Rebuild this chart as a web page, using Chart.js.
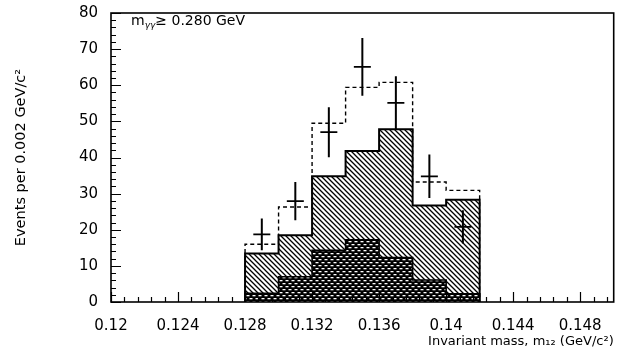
<!DOCTYPE html>
<html>
<head>
<meta charset="utf-8">
<script src="https://cdn.jsdelivr.net/npm/chart.js@4.4.0/dist/chart.umd.min.js"></script>
<style>
  html, body { margin: 0; padding: 0; background: #fff; }
  #wrap { width: 624px; height: 358px; }
</style>
</head>
<body>
<div id="wrap"><canvas id="chart" width="624" height="358"></canvas></div>
<script>
// histogram bins, width 0.002 GeV/c^2
const binEdges = [0.128, 0.130, 0.132, 0.134, 0.136, 0.138, 0.140, 0.142];
const totalMC  = [16.0, 26.3, 49.5, 59.4, 60.8, 33.2, 30.9];  // dashed outline
const signalMC = [13.4, 18.5, 34.8, 41.8, 47.8, 26.7, 28.3];  // hatched
const bkgMC    = [2.4, 7.0, 14.3, 17.2, 12.3, 6.1, 2.3];      // cross-hatched

// data points with errors
const dataX   = [0.129, 0.131, 0.133, 0.135, 0.137, 0.139, 0.141];
const dataY   = [18.7, 27.9, 47.0, 65.1, 55.1, 34.8, 20.8];
const dataErr = [4.4, 5.3, 6.9, 8.0, 7.4, 6.0, 4.6];

const xTicks = [0.12, 0.124, 0.128, 0.132, 0.136, 0.14, 0.144, 0.148];
const yTicks = [0, 10, 20, 30, 40, 50, 60, 70, 80];

const FONT = "'DejaVu Sans', sans-serif";

// step outline: up at first edge, across each bin, down at the last edge
function stepPoints(vals) {
  const pts = [{ x: binEdges[0], y: 0 }];
  vals.forEach((v, i) => pts.push({ x: binEdges[i], y: v }));
  pts.push({ x: binEdges[vals.length], y: vals[vals.length - 1] });
  pts.push({ x: binEdges[vals.length], y: 0 });
  return pts;
}

function errPoints() {
  const pts = [];
  dataX.forEach((x, i) => {
    pts.push({ x: x, y: dataY[i] - dataErr[i] });
    pts.push({ x: x, y: dataY[i] + dataErr[i] });
    pts.push({ x: x, y: null });
  });
  return pts;
}

/* --- fill patterns --- */
function hatchPattern() {
  const c = document.createElement("canvas");
  c.width = 5; c.height = 5;
  const g = c.getContext("2d");
  g.fillStyle = "#fff";
  g.fillRect(0, 0, 5, 5);
  g.strokeStyle = "#000";
  g.lineWidth = 1.3;
  g.beginPath();
  g.moveTo(-1, -1); g.lineTo(6, 6);
  g.moveTo(-1, 4); g.lineTo(1, 6);
  g.moveTo(4, -1); g.lineTo(6, 1);
  g.stroke();
  return g.createPattern(c, "repeat");
}

function brickPattern() {
  const c = document.createElement("canvas");
  c.width = 6; c.height = 6;
  const g = c.getContext("2d");
  g.fillStyle = "#000";
  g.fillRect(0, 0, 6, 6);
  g.fillStyle = "#fff";
  g.fillRect(0.5, 1, 3, 1.3);
  g.fillRect(3.5, 4, 2.5, 1.3);
  g.fillRect(0, 4, 0.5, 1.3);
  return g.createPattern(c, "repeat");
}

/* --- frame, inward ticks, cut label --- */
const framePlugin = {
  id: "frame",
  afterDatasetsDraw(chart) {
    const { ctx, chartArea: a, scales: { x, y } } = chart;
    ctx.save();
    ctx.strokeStyle = "#000";
    ctx.lineWidth = 1.2;
    ctx.beginPath();
    for (let k = 0; k <= 37; k++) {
      const px = Math.round(x.getPixelForValue(0.12 + k * 0.0008)) + 0.5;
      const len = k % 5 === 0 ? 10 : 5;
      ctx.moveTo(px, a.bottom);
      ctx.lineTo(px, a.bottom - len);
    }
    for (let k = 0; k <= 40; k++) {
      const py = Math.round(y.getPixelForValue(k * 2)) + 0.5;
      const len = k % 5 === 0 ? 10 : 5;
      ctx.moveTo(a.left, py);
      ctx.lineTo(a.left + len, py);
    }
    ctx.stroke();

    ctx.lineWidth = 1.6;
    ctx.strokeRect(a.left, a.top, a.right - a.left, a.bottom - a.top);

    // m_γγ ≥ 0.280 GeV
    ctx.fillStyle = "#000";
    ctx.textBaseline = "alphabetic";
    let tx = a.left + 20, ty = a.top + 12;
    ctx.font = "14px " + FONT;
    ctx.fillText("m", tx, ty);
    tx += ctx.measureText("m").width;
    ctx.font = "italic 9px " + FONT;
    ctx.fillText("γγ", tx, ty + 3);
    tx += ctx.measureText("γγ").width;
    ctx.font = "14px " + FONT;
    ctx.fillText("≥ 0.280 GeV", tx, ty);
    ctx.restore();
  }
};

const ctx = document.getElementById("chart").getContext("2d");

new Chart(ctx, {
  type: "line",
  data: {
    datasets: [
      {
        label: "Data",
        data: dataX.map((x, i) => ({ x: x, y: dataY[i] })),
        showLine: false,
        pointStyle: "line",
        pointRadius: 8.5,
        pointBorderWidth: 1.8,
        pointBorderColor: "#000",
        borderColor: "#000",
      },
      {
        label: "Errors",
        data: errPoints(),
        borderColor: "#000",
        borderWidth: 2,
        pointRadius: 0,
        spanGaps: false,
      },
      {
        label: "Background",
        data: stepPoints(bkgMC),
        stepped: "before",
        borderColor: "#000",
        borderWidth: 1.6,
        backgroundColor: brickPattern(),
        fill: "origin",
        pointRadius: 0,
      },
      {
        label: "Signal",
        data: stepPoints(signalMC),
        stepped: "before",
        borderColor: "#000",
        borderWidth: 2,
        backgroundColor: hatchPattern(),
        fill: "origin",
        pointRadius: 0,
      },
      {
        label: "Total",
        data: stepPoints(totalMC),
        stepped: "before",
        borderColor: "#000",
        borderWidth: 1.4,
        borderDash: [4, 3],
        fill: false,
        pointRadius: 0,
      },
    ],
  },
  options: {
    responsive: false,
    animation: false,
    layout: { padding: { top: 13, right: 10, left: 0, bottom: 0 } },
    plugins: {
      legend: { display: false },
      tooltip: { enabled: false },
    },
    scales: {
      x: {
        type: "linear",
        min: 0.12,
        max: 0.15,
        afterBuildTicks: (s) => { s.ticks = xTicks.map((v) => ({ value: v })); },
        afterFit: (s) => { s.height = 56; s.paddingRight = 0; },
        grid: { display: false, drawTicks: false },
        border: { display: false },
        ticks: {
          color: "#000",
          font: { family: FONT, size: 15 },
          padding: 15,
          maxRotation: 0,
          autoSkip: false,
          callback: (v) => String(v),
        },
        title: {
          display: true,
          text: "Invariant mass, m\u2081\u2082 (GeV/c\u00b2)",
          align: "end",
          color: "#000",
          font: { family: FONT, size: 13 },
          padding: { top: 0, bottom: 9 },
        },
      },
      y: {
        min: 0,
        max: 80,
        afterBuildTicks: (s) => { s.ticks = yTicks.map((v) => ({ value: v })); },
        afterFit: (s) => { s.width = 111; s.paddingTop = 0; s.paddingBottom = 0; },
        grid: { display: false, drawTicks: false },
        border: { display: false },
        ticks: {
          color: "#000",
          font: { family: FONT, size: 15 },
          padding: 13,
        },
        title: {
          display: true,
          text: "Events per 0.002 GeV/c\u00b2",
          color: "#000",
          font: { family: FONT, size: 14.5 },
          padding: { top: 13 },
        },
      },
    },
  },
  plugins: [framePlugin],
});
</script>
</body>
</html>
